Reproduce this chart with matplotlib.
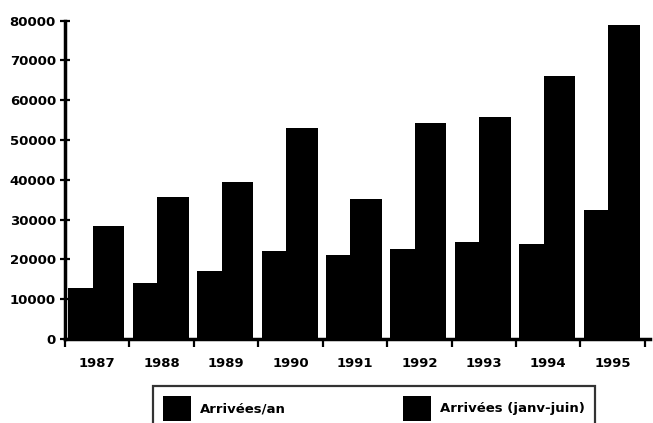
import matplotlib.pyplot as plt
import numpy as np

years = ["1987", "1988", "1989", "1990", "1991", "1992", "1993", "1994", "1995"]
arrivees_an = [12900, 14000, 17000, 22200, 21100, 22500, 24300, 23900, 32500]
arrivees_janv_juin = [28300, 35700, 39500, 53100, 35100, 54200, 55800, 66200, 78900]
y_ticks = [0, 10000, 20000, 30000, 40000, 50000, 60000, 70000, 80000]

plt.rcParams['font.family'] = 'DejaVu Sans'
plt.rcParams['font.weight'] = 'bold'

fig = plt.figure(figsize=(6.53, 4.23), dpi=100)
ax = fig.add_axes([65 / 653, 1 - 339 / 423, 585 / 653, (339 - 20.7) / 423])

x = np.arange(len(years))
ax.bar(x - 0.45, arrivees_an, width=0.38, align='edge', color='black',
       label="Arrivées/an")
ax.bar(x - 0.07, arrivees_janv_juin, width=0.49, align='edge', color='black',
       label="Arrivées (janv-juin)")

ax.set_xlim(-0.5, 8.58)
ax.set_ylim(0, 80000)

# y axis: crossing tick marks, plain integer labels
ax.set_yticks(y_ticks)
ax.set_yticklabels([str(v) for v in y_ticks], fontsize=9.5, fontweight='bold')
ax.tick_params(axis='y', direction='inout', length=7, width=1.6, pad=3)

# x axis: tick marks between the years, labels centred on each year
ax.set_xticks(np.arange(-0.5, len(years), 1))
ax.set_xticklabels([])
ax.tick_params(axis='x', which='major', direction='out', length=6, width=1.6)
ax.set_xticks(x, minor=True)
ax.set_xticklabels(years, minor=True, fontsize=9.5, fontweight='bold')
ax.tick_params(axis='x', which='minor', length=0, pad=13)

for side in ['top', 'right']:
    ax.spines[side].set_visible(False)
for side in ['left', 'bottom']:
    ax.spines[side].set_linewidth(2.5)

# legend box runs off the bottom edge of the figure
leg = fig.legend(loc='upper left', bbox_to_anchor=(153 / 653, -0.2, 442 / 653, 0.2 + 1 - 386 / 423),
                 ncol=2, mode='expand', frameon=True, fancybox=False, borderaxespad=0,
                 edgecolor='black', handlelength=2.1, handleheight=2.55,
                 handletextpad=0.7, borderpad=0.75, prop={'weight': 'bold', 'size': 9.5})
leg.get_frame().set_linewidth(1.6)

fig.savefig("out.png", dpi=100)
